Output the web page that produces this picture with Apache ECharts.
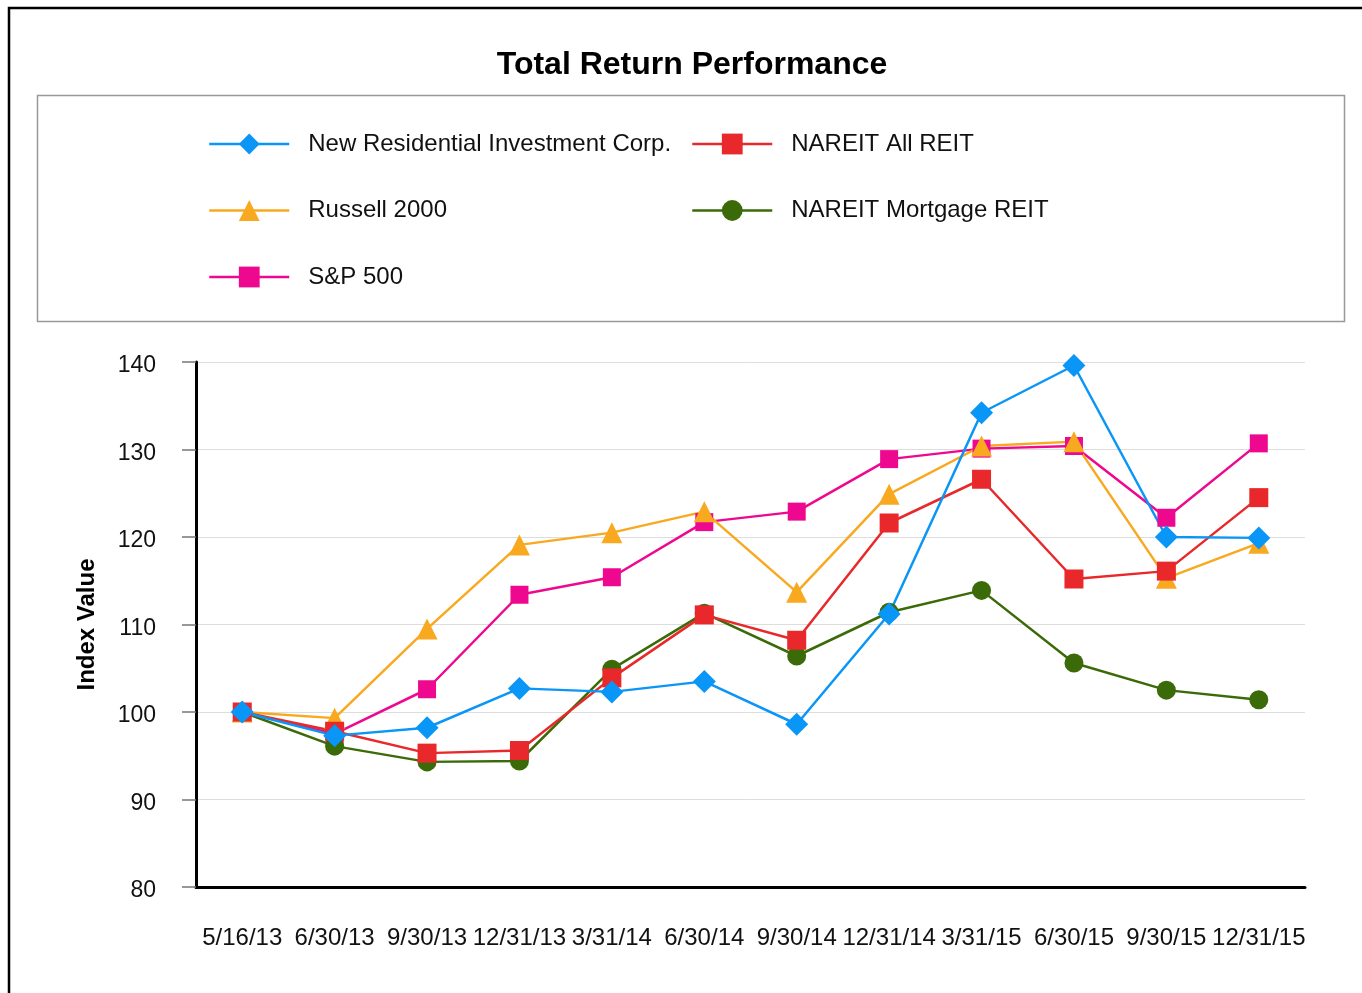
<!DOCTYPE html>
<html>
<head>
<meta charset="utf-8">
<script src="https://cdn.jsdelivr.net/npm/echarts@6/dist/echarts.min.js"></script>
<style>
  html, body { margin: 0; padding: 0; background: #fff; }
  #chart { width: 1362px; height: 993px; }
</style>
</head>
<body>
<div id="chart"></div>
<script>
// Total return index values, 100 = 5/16/13
const dates = ["5/16/13", "6/30/13", "9/30/13", "12/31/13", "3/31/14", "6/30/14",
  "9/30/14", "12/31/14", "3/31/15", "6/30/15", "9/30/15", "12/31/15"];
const yTicks = [80, 90, 100, 110, 120, 130, 140];

const newResidential = [100, 97.3, 98.2, 102.7, 102.3, 103.5, 98.6, 111.2, 134.2, 139.6, 120.0, 119.9];
const russell2000 = [100, 99.3, 109.5, 119.1, 120.5, 122.9, 113.7, 124.9, 130.4, 130.9, 115.3, 119.3];
const sp500 = [100, 97.5, 102.6, 113.4, 115.4, 121.7, 122.9, 128.9, 130.1, 130.4, 122.2, 130.7];
const nareitAll = [100, 97.8, 95.3, 95.6, 103.9, 111.1, 108.2, 121.6, 126.6, 115.2, 116.1, 124.5];
const nareitMortgage = [100, 96.1, 94.3, 94.4, 104.9, 111.3, 106.4, 111.4, 113.9, 105.6, 102.5, 101.4];

const font = "'Liberation Sans', Arial, sans-serif";

function lineSeries(name, data, color, symbol, size) {
  return {
    name: name,
    type: "line",
    data: data,
    symbol: symbol,
    symbolSize: size,
    showAllSymbol: true,
    lineStyle: { color: color, width: 2.5 },
    itemStyle: { color: color },
    emphasis: { disabled: true },
  };
}

const chartDom = document.getElementById("chart");
const myChart = echarts.init(chartDom);

const legendText = { fontFamily: font, fontSize: 24, color: "#111", padding: [0, 0, 0, 14] };

function legendBlock(left, names) {
  return {
    orient: "vertical",
    left: left,
    top: 127,
    itemWidth: 80,
    itemHeight: 26,
    itemGap: 42.5,
    data: names,
    lineStyle: { width: 2.5 },
    textStyle: legendText,
  };
}

const option = {
  animation: false,
  backgroundColor: "#fff",
  textStyle: { fontFamily: font },
  title: {
    text: "Total Return Performance",
    left: 687,
    textAlign: "center",
    top: 44,
    textStyle: { fontFamily: font, fontSize: 32, fontWeight: "bold", color: "#000" },
  },
  graphic: [
    {
      type: "rect",
      shape: { x: 9, y: 8, width: 1500, height: 1200 },
      style: { fill: null, stroke: "#000", lineWidth: 2.5 },
      silent: true,
    },
    {
      type: "rect",
      shape: { x: 37.5, y: 95.5, width: 1307, height: 226 },
      style: { fill: null, stroke: "#999", lineWidth: 1.5 },
      silent: true,
    },
  ],
  legend: [
    legendBlock(203, ["New Residential Investment Corp.", "Russell 2000", "S&P 500"]),
    legendBlock(686, ["NAREIT All REIT", "NAREIT Mortgage REIT"]),
  ],
  grid: {
    left: 196,
    right: 57,
    top: 362,
    bottom: 106,
    containLabel: false,
  },
  xAxis: {
    type: "category",
    data: dates,
    boundaryGap: true,
    axisLine: { lineStyle: { color: "#000", width: 3 } },
    axisTick: { alignWithLabel: true, length: 13, lineStyle: { color: "#777", width: 1 } },
    axisLabel: { interval: 0, margin: 39, fontSize: 24, color: "#111", fontFamily: font },
    splitLine: { show: false },
  },
  yAxis: {
    type: "value",
    min: yTicks[0],
    max: yTicks[yTicks.length - 1],
    interval: 10,
    name: "Index Value",
    nameLocation: "middle",
    nameGap: 97,
    nameTextStyle: { fontFamily: font, fontSize: 24, fontWeight: "bold", color: "#000" },
    axisLine: { show: true, lineStyle: { color: "#000", width: 3 } },
    axisTick: { show: true, length: 14, lineStyle: { color: "#777", width: 1.5 } },
    axisLabel: {
      margin: 40,
      fontSize: 23,
      color: "#111",
      fontFamily: font,
      verticalAlign: "top",
      lineHeight: 8,
    },
    splitLine: { lineStyle: { color: "#ddd", width: 1 } },
  },
  series: [
    lineSeries("S&P 500", sp500, "#ee0890", "rect", 18),
    lineSeries("Russell 2000", russell2000, "#f8a91f", "triangle", 21),
    lineSeries("NAREIT Mortgage REIT", nareitMortgage, "#3b6a08", "circle", 19),
    lineSeries("NAREIT All REIT", nareitAll, "#e8282a", "rect", 19),
    lineSeries("New Residential Investment Corp.", newResidential, "#0a96f7", "diamond", 23),
  ],
};

myChart.setOption(option);
</script>
</body>
</html>
